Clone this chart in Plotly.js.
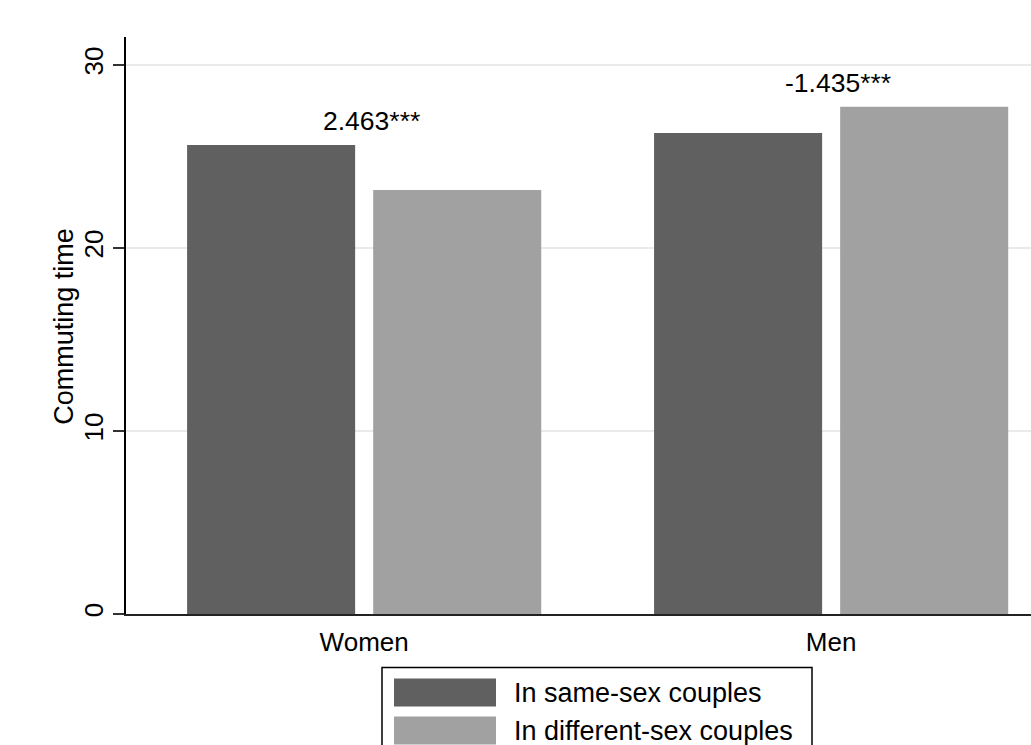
<!DOCTYPE html>
<html>
<head>
<meta charset="utf-8">
<script src="https://cdn.plot.ly/plotly-3.0.1.min.js"></script>
<style>
html,body{margin:0;padding:0;background:#fff;}
#chart{width:1031px;height:745px;}
</style>
</head>
<body>
<div id="chart"></div>
<script>
// ---- data ----
const categories = ['Women', 'Men'];
const seriesNames = ['In same-sex couples', 'In different-sex couples'];
const sameSex = [25.63, 26.28];
const diffSex = [23.17, 27.715];
const diffLabels = ['2.463***', '-1.435***'];
const yTicks = [0, 10, 20, 30];
const yTitle = 'Commuting time';

// ---- styles ----
const colors = ['#606060', '#a1a1a1'];
const FONT = 'Liberation Sans, Arial, Helvetica, sans-serif';
const W = 1031, H = 745;
const ML = 126, MR = 0, MT = 37, MB = 130.5;
const PW = W - ML - MR, PH = H - MT - MB;
const px2x = p => (p - ML) / PW;
const py2y = p => (H - MB - p) / PH;

const traces = [
  {type: 'bar', x: categories, y: sameSex, name: seriesNames[0],
   marker: {color: colors[0], line: {width: 0}}, hoverinfo: 'y'},
  {type: 'bar', x: categories, y: diffSex, name: seriesNames[1],
   marker: {color: colors[1], line: {width: 0}}, hoverinfo: 'y'}
];

const annotations = categories.map((c, i) => ({
  xref: 'x', yref: 'y', x: c, y: Math.max(sameSex[i], diffSex[i]) + 1.3,
  text: diffLabels[i], showarrow: false, xanchor: 'center', yanchor: 'middle',
  xshift: 7, font: {family: FONT, size: 26.5, color: '#000'}
}));

// manual legend (wide swatches, as in reference)
const shapes = [
  {type: 'rect', xref: 'paper', yref: 'paper',
   x0: px2x(382), x1: px2x(812), y0: py2y(790), y1: py2y(668),
   line: {color: '#000', width: 1.5}, fillcolor: 'rgba(0,0,0,0)', layer: 'above'}
];
const swatchTop = [679, 717];
seriesNames.forEach((n, i) => {
  shapes.push({type: 'rect', xref: 'paper', yref: 'paper',
    x0: px2x(394), x1: px2x(496), y0: py2y(swatchTop[i] + 28), y1: py2y(swatchTop[i]),
    line: {width: 0}, fillcolor: colors[i], layer: 'above'});
  annotations.push({xref: 'paper', yref: 'paper', x: px2x(512), y: py2y(swatchTop[i] + 15),
    text: n, showarrow: false, xanchor: 'left', yanchor: 'middle',
    font: {family: FONT, size: 27, color: '#000'}});
});

// y-axis title placed beside the tick labels
annotations.push({xref: 'paper', yref: 'paper', x: px2x(81), y: py2y(326),
  text: yTitle, textangle: -90, showarrow: false, xanchor: 'right', yanchor: 'middle',
  font: {family: FONT, size: 27, color: '#000'}});

const layout = {
  width: W, height: H,
  margin: {l: ML, r: MR, t: MT, b: MB, pad: 0},
  paper_bgcolor: '#fff', plot_bgcolor: '#fff',
  showlegend: false,
  barmode: 'group', bargap: 0.203, bargroupgap: 0.097,
  font: {family: FONT, color: '#000'},
  xaxis: {
    type: 'category', range: [-0.51, 1.428], fixedrange: true,
    showline: true, linecolor: '#222', linewidth: 2,
    ticks: '', showgrid: false, zeroline: false,
    tickfont: {family: FONT, size: 26, color: '#000'},
    ticklabelstandoff: 4
  },
  yaxis: {
    range: [0, 31.53], tickvals: yTicks, ticktext: yTicks.map(String),
    tickangle: -90, ticks: 'outside', ticklen: 11, tickwidth: 2, tickcolor: '#333',
    showline: true, linecolor: '#000', linewidth: 2,
    showgrid: true, gridcolor: '#eaeaea', gridwidth: 2, zeroline: false,
    tickfont: {family: FONT, size: 26, color: '#000'},
    ticklabelstandoff: 0,
    automargin: false
  },
  annotations: annotations,
  shapes: shapes
};

Plotly.newPlot('chart', traces, layout, {displayModeBar: false, staticPlot: true});
</script>
</body>
</html>
